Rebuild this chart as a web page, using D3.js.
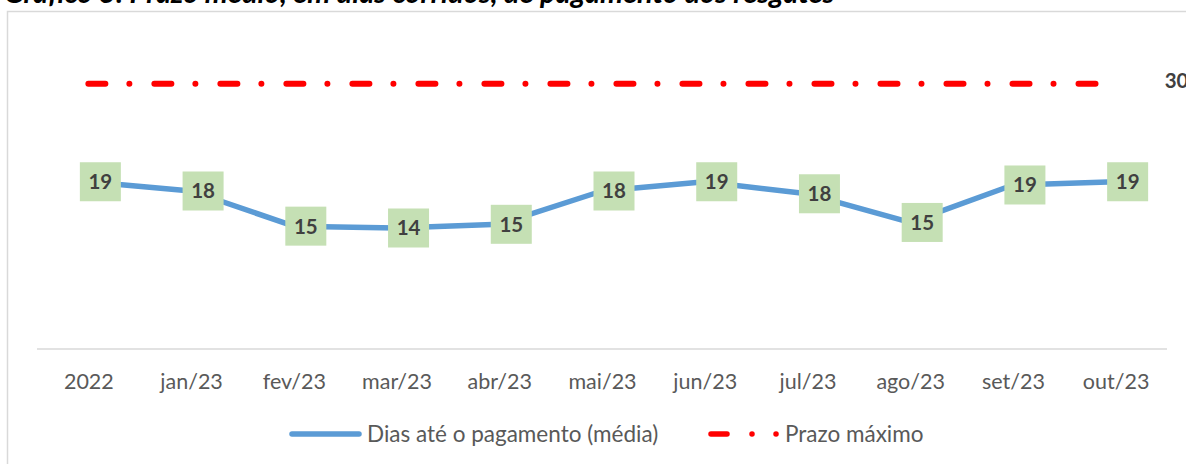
<!DOCTYPE html>
<html>
<head>
<meta charset="utf-8">
<script src="https://cdn.jsdelivr.net/npm/d3@7"></script>
<style>
    body { margin: 0; background: #fff; }
    #chart { width: 1186px; height: 464px; overflow: hidden; }
    .axis-label { font-family: Lato, "Open Sans", sans-serif; font-size: 21.5px; fill: #595959; }
    .point-label { font-family: Lato, "Open Sans", sans-serif; font-size: 20.5px; font-weight: bold; fill: #404040; }
    .legend-text { font-family: Lato, "Open Sans", sans-serif; font-size: 22.5px; fill: #595959; }
    .title { font-family: Lato, sans-serif; font-size: 29px; font-weight: bold; font-style: italic; fill: #000; }
</style>
</head>
<body>
<div id="chart"></div>
<script>
const titleText = "Gráfico 3: Prazo médio, em dias corridos, de pagamento dos resgates";
const categories = ["2022", "jan/23", "fev/23", "mar/23", "abr/23", "mai/23", "jun/23", "jul/23", "ago/23", "set/23", "out/23"];
const diasPagamento = [19.4, 18.4, 14.6, 14.4, 14.8, 18.4, 19.4, 18.1, 15.0, 19.05, 19.4];
const prazoMaximo = [30, 30, 30, 30, 30, 30, 30, 30, 30, 30, 30];
const seriesNames = ["Dias até o pagamento (média)", "Prazo máximo"];

function renderChart() {
    const width = 1186;
    const height = 464;
    const plotLeft = 37;
    const plotRight = 1167;
    const plotBottom = 349;

    const svg = d3.select("#chart").append("svg")
        .attr("width", width)
        .attr("height", height);

    // title, mostly cut off above the frame
    svg.append("text")
        .attr("class", "title")
        .attr("x", 4)
        .attr("y", 3)
        .text(titleText);

    // chart frame
    svg.append("rect")
        .attr("x", 7.5)
        .attr("y", 11.5)
        .attr("width", 1200)
        .attr("height", 470)
        .attr("fill", "none")
        .attr("stroke", "#d9d9d9")
        .attr("stroke-width", 1.5);

    const xScale = d3.scalePoint()
        .domain(categories)
        .range([plotLeft, plotRight])
        .padding(0.5);

    const yScale = d3.scaleLinear()
        .domain([0, 30])
        .range([361.2, 83.7]);

    // category axis
    const xAxis = svg.append("g")
        .attr("transform", `translate(0, ${plotBottom})`)
        .call(d3.axisBottom(xScale).tickSize(0).tickPadding(0));
    xAxis.select(".domain")
        .attr("d", `M${plotLeft},0H${plotRight}`)
        .attr("stroke", "#d9d9d9")
        .attr("stroke-width", 1.5);
    xAxis.selectAll(".tick text")
        .attr("class", "axis-label")
        .attr("y", 40)
        .attr("dy", null)
        .attr("font-family", null)
        .attr("font-size", null)
        .attr("fill", null);
    xAxis.attr("font-family", null).attr("font-size", null);

    // prazo maximo line
    const line = d3.line()
        .x(function (d, i) { return xScale(categories[i]); })
        .y(function (d) { return yScale(d); });

    svg.append("path")
        .datum(prazoMaximo)
        .attr("d", line)
        .attr("fill", "none")
        .attr("stroke", "#ff0000")
        .attr("stroke-width", 6)
        .attr("stroke-linecap", "round")
        .attr("stroke-dasharray", "17,24,0.01,25");

    const last = prazoMaximo.length - 1;
    svg.append("text")
        .attr("class", "point-label")
        .attr("x", xScale(categories[last]) + 49)
        .attr("y", yScale(prazoMaximo[last]) - 3)
        .attr("dy", "0.35em")
        .text(prazoMaximo[last]);

    // dias line
    svg.append("path")
        .datum(diasPagamento)
        .attr("d", line)
        .attr("fill", "none")
        .attr("stroke", "#5b9bd5")
        .attr("stroke-width", 5.5)
        .attr("stroke-linejoin", "round")
        .attr("stroke-linecap", "round");

    // data labels
    const boxW = 41;
    const boxH = 39;
    const labelShift = 12;
    const labels = svg.selectAll(".dias-label")
        .data(diasPagamento)
        .join("g")
        .attr("class", "dias-label")
        .attr("transform", function (d, i) {
            return `translate(${xScale(categories[i]) + labelShift}, ${yScale(d)})`;
        });
    labels.append("rect")
        .attr("x", -boxW / 2)
        .attr("y", -boxH / 2)
        .attr("width", boxW)
        .attr("height", boxH)
        .attr("fill", "#c5e0b4");
    labels.append("text")
        .attr("class", "point-label")
        .attr("text-anchor", "middle")
        .attr("dy", "0.36em")
        .text(function (d) { return Math.round(d); });

    // legend
    const legendY = 434;
    svg.append("line")
        .attr("x1", 292).attr("x2", 359)
        .attr("y1", legendY).attr("y2", legendY)
        .attr("stroke", "#5b9bd5")
        .attr("stroke-width", 5.5)
        .attr("stroke-linecap", "round");
    svg.append("text")
        .attr("class", "legend-text")
        .attr("x", 367)
        .attr("y", legendY + 7.5)
        .text(seriesNames[0]);

    svg.append("line")
        .attr("x1", 711).attr("x2", 777)
        .attr("y1", legendY).attr("y2", legendY)
        .attr("stroke", "#ff0000")
        .attr("stroke-width", 5.5)
        .attr("stroke-linecap", "round")
        .attr("stroke-dasharray", "16,25,0.01,24,0.01,100");
    svg.append("text")
        .attr("class", "legend-text")
        .attr("x", 785)
        .attr("y", legendY + 7.5)
        .text(seriesNames[1]);
}

renderChart();
</script>
</body>
</html>
